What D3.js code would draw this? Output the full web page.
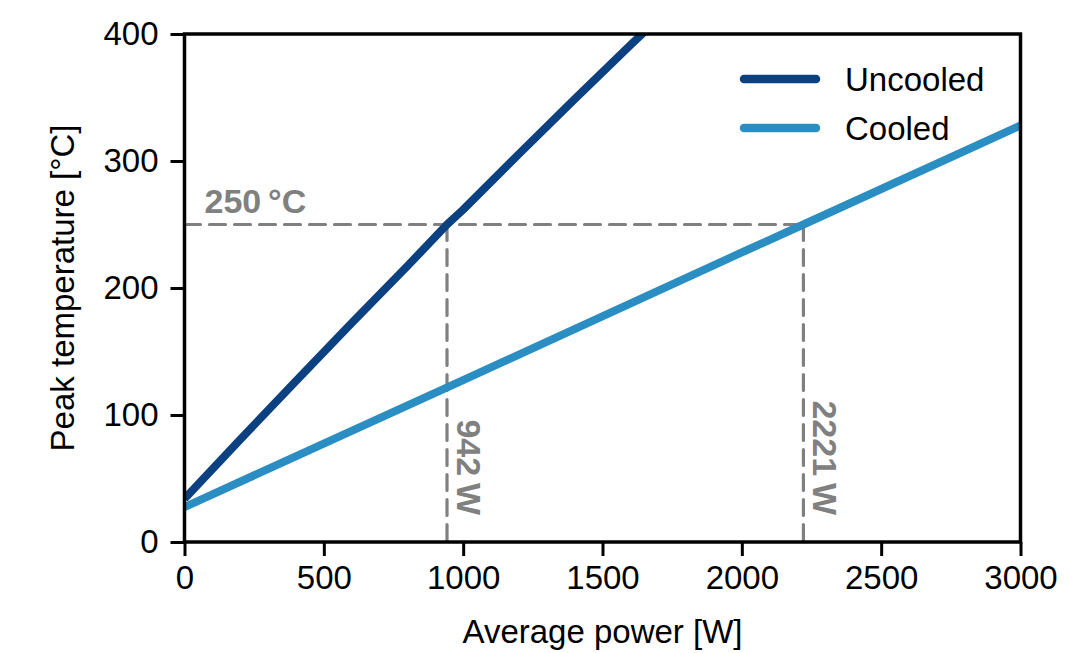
<!DOCTYPE html>
<html>
<head>
<meta charset="utf-8">
<script src="https://cdn.jsdelivr.net/npm/d3@7"></script>
<style>
  html, body { margin: 0; padding: 0; background: #fff; }
  svg { display: block; font-family: "Liberation Sans", Arial, Helvetica, sans-serif; }
</style>
</head>
<body>
<svg id="chart" width="1088" height="653"></svg>
<script>
// Peak temperature versus average power, with and without cooling
const powerUncooled = [0, 200, 400, 600, 800, 942, 1000, 1200, 1400, 1600, 1700];
const tempUncooled  = [34, 80.7, 126.8, 172.4, 217.3, 250, 261.7, 305.5, 348.7, 391.3, 412];

const powerCooled = [0, 1000, 2000, 2221, 3000];
const tempCooled  = [27.5, 127.5, 228, 250, 328];

const seriesNames  = ["Uncooled", "Cooled"];
const seriesColors = ["#0b4081", "#2b8ec2"];

const xTicks = [0, 500, 1000, 1500, 2000, 2500, 3000];
const yTicks = [0, 100, 200, 300, 400];

// Operating limit and the power at which each curve reaches it
const limitTemp = 250;
const limitPowers = [942, 2221];
const limitLabel = "250\u2009°C";
const powerLabels = ["942\u2009W", "2221\u2009W"];

const svg = d3.select("#chart");
const margin = { left: 184.5, right: 1020.5, top: 34, bottom: 542 };

const x = d3.scaleLinear().domain([0, 3000]).range([margin.left, margin.right]);
const y = d3.scaleLinear().domain([0, 400]).range([margin.bottom, margin.top]);

const fontSize = 33;
const boldSize = 34;

svg.append("defs").append("clipPath").attr("id", "plot-clip")
  .append("rect")
  .attr("x", margin.left).attr("y", margin.top)
  .attr("width", margin.right - margin.left)
  .attr("height", margin.bottom - margin.top);

const gray = "#808080";
const dash = "16 9";

// Dashed guide lines at the temperature limit
const guides = svg.append("g");
guides.append("line")
  .attr("x1", x(0)).attr("x2", x(limitPowers[1]))
  .attr("y1", y(limitTemp)).attr("y2", y(limitTemp))
  .attr("stroke", gray).attr("stroke-width", 3.2)
  .attr("stroke-dasharray", dash).attr("stroke-linecap", "round");
limitPowers.forEach(p => {
  guides.append("line")
    .attr("x1", x(p)).attr("x2", x(p))
    .attr("y1", y(limitTemp)).attr("y2", y(0))
    .attr("stroke", gray).attr("stroke-width", 3.2)
    .attr("stroke-dasharray", dash).attr("stroke-linecap", "round");
});

// Curves
const line = d3.line().x(d => x(d[0])).y(d => y(d[1]));
const curves = [
  d3.zip(powerUncooled, tempUncooled),
  d3.zip(powerCooled, tempCooled)
];
const lines = svg.append("g").attr("clip-path", "url(#plot-clip)");
curves.forEach((pts, i) => {
  lines.append("path")
    .datum(pts)
    .attr("d", line)
    .attr("fill", "none")
    .attr("stroke", seriesColors[i])
    .attr("stroke-width", 8)
    .attr("stroke-linejoin", "round");
});

// Annotation texts
svg.append("text")
  .attr("x", x(0) + 20).attr("y", y(limitTemp) - 12)
  .attr("fill", gray).attr("font-weight", "bold").attr("font-size", boldSize)
  .text(limitLabel);

limitPowers.forEach((p, i) => {
  svg.append("text")
    .attr("transform", `translate(${x(p) + 10},${y(0) - 27}) rotate(90)`)
    .attr("text-anchor", "end")
    .attr("fill", gray).attr("font-weight", "bold").attr("font-size", boldSize)
    .text(powerLabels[i]);
});

// Axes
const xAxis = d3.axisBottom(x).tickValues(xTicks).tickSize(14).tickPadding(10).tickFormat(d3.format("d"));
const yAxis = d3.axisLeft(y).tickValues(yTicks).tickSize(14).tickPadding(12).tickFormat(d3.format("d"));

const gx = svg.append("g").attr("transform", `translate(0,${margin.bottom})`).call(xAxis);
const gy = svg.append("g").attr("transform", `translate(${margin.left},0)`).call(yAxis);
[gx, gy].forEach(g => {
  g.select(".domain").remove();
  g.selectAll(".tick line").attr("stroke", "#000").attr("stroke-width", 3);
  g.selectAll(".tick text").attr("fill", "#000").attr("font-size", fontSize);
});
gx.selectAll(".tick text").attr("dy", "0.71em");

// Frame
svg.append("rect")
  .attr("x", margin.left).attr("y", margin.top)
  .attr("width", margin.right - margin.left)
  .attr("height", margin.bottom - margin.top)
  .attr("fill", "none").attr("stroke", "#000").attr("stroke-width", 3.5);

// Axis titles
svg.append("text")
  .attr("x", (margin.left + margin.right) / 2).attr("y", 643)
  .attr("text-anchor", "middle").attr("font-size", fontSize).attr("fill", "#000")
  .text("Average power [W]");
svg.append("text")
  .attr("transform", `translate(74,${(margin.top + margin.bottom) / 2}) rotate(-90)`)
  .attr("text-anchor", "middle").attr("font-size", fontSize).attr("fill", "#000")
  .text("Peak temperature [°C]");

// Legend
const legend = svg.append("g");
seriesNames.forEach((name, i) => {
  const ly = 79 + i * 49;
  legend.append("line")
    .attr("x1", 744).attr("x2", 816).attr("y1", ly).attr("y2", ly)
    .attr("stroke", seriesColors[i]).attr("stroke-width", 8.5).attr("stroke-linecap", "round");
  legend.append("text")
    .attr("x", 845).attr("y", ly).attr("dy", "0.36em")
    .attr("font-size", fontSize).attr("fill", "#000")
    .text(name);
});
</script>
</body>
</html>
